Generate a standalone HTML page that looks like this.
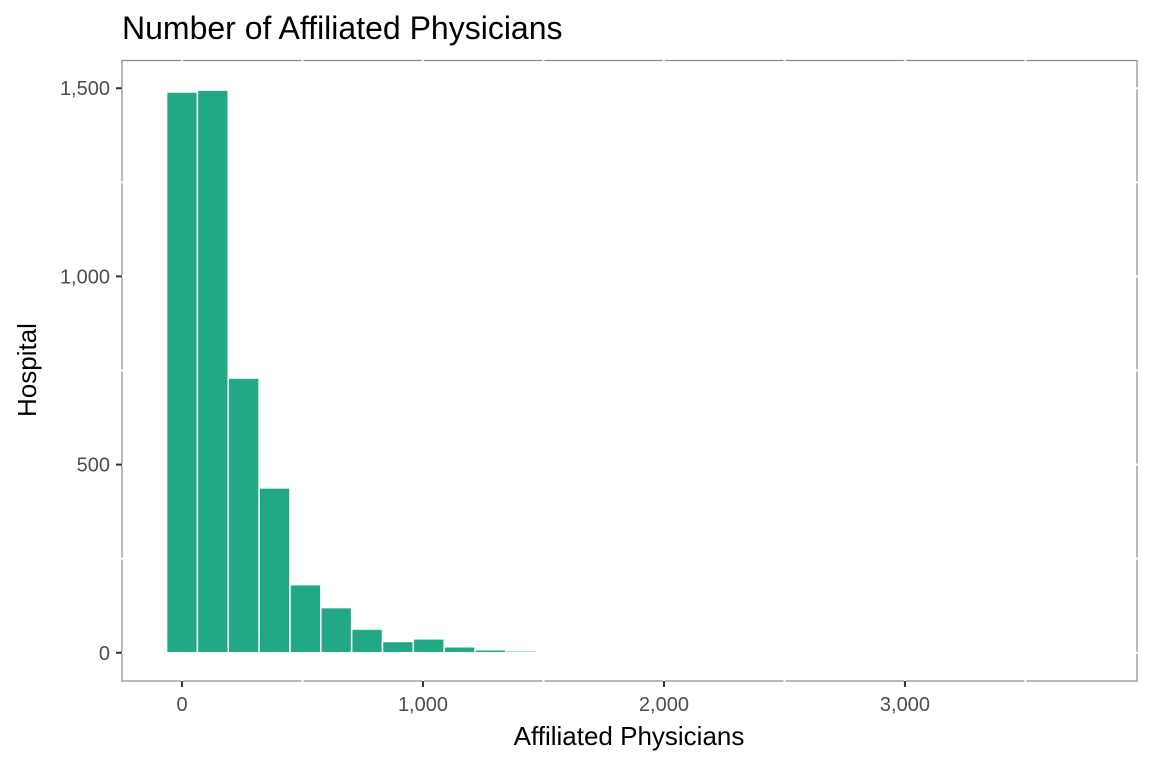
<!DOCTYPE html>
<html><head><meta charset="utf-8">
<style>
html,body{margin:0;padding:0;background:#fff;}
svg{display:block;font-family:"Liberation Sans",Arial,sans-serif;}
</style></head>
<body>
<svg id="chart" width="1152" height="768" viewBox="0 0 1152 768" xmlns="http://www.w3.org/2000/svg">
<rect width="1152" height="768" fill="#fff"/>
<text x="122" y="39" font-size="32" fill="#000">Number of Affiliated Physicians</text>
<g id="bars"></g>
<rect x="122" y="60.5" width="1015" height="620.5" fill="none" stroke="#8a8a8a" stroke-width="1.2"/>
<g id="grid"></g>
<g id="axes"></g>
<text x="629" y="745" font-size="26" text-anchor="middle" fill="#000">Affiliated Physicians</text>
<text transform="translate(36,370) rotate(-90)" font-size="26" text-anchor="middle" fill="#000">Hospital</text>
</svg>
<script>
const binCenters = [0,128,256,384,512,640,768,896,1024,1152,1280,1408,1536];
const counts = [1490,1495,730,438,181,120,63,30,37,16,8,5,1];
const binWidth = 128;
const xTicks = [0,1000,2000,3000];
const xTickLabels = ["0","1,000","2,000","3,000"];
const yTicks = [0,500,1000,1500];
const yTickLabels = ["0","500","1,000","1,500"];

const NS="http://www.w3.org/2000/svg";
const X0=122,X1=1137,Y0=681,Y1=60;
const xMin=-249,xMax=3963,yMin=-75,yMax=1575;
const xs=v=>X0+(v-xMin)/(xMax-xMin)*(X1-X0);
const ys=v=>Y0-(v-yMin)/(yMax-yMin)*(Y0-Y1);
function mk(tag,attrs,parent){const e=document.createElementNS(NS,tag);for(const k in attrs)e.setAttribute(k,attrs[k]);parent.appendChild(e);return e;}

const bars=document.getElementById('bars');
counts.forEach((c,i)=>{
  const l=xs(binCenters[i]-binWidth/2),r=xs(binCenters[i]+binWidth/2);
  const t=ys(c),b=ys(0);
  const rc=mk('rect',{x:l,y:t,width:r-l,height:Math.max(b-t,0.5),fill:'#22a884',stroke:'#ffffff','stroke-width':1.5},bars);
  
  
});

const grid=document.getElementById('grid');
const xg=[...xTicks];xTicks.forEach(v=>xg.push(v+500));xg.push(-500);
xg.forEach(v=>{const x=xs(v);if(x>X0&&x<X1){
  const g1=mk('line',{x1:x,x2:x,y1:Y1-1,y2:Y1+2,stroke:'#fff','stroke-width':2},grid);
  
  const g2=mk('line',{x1:x,x2:x,y1:Y0-2,y2:Y0+1,stroke:'#fff','stroke-width':2},grid);
  }});
const yg=[...yTicks];yTicks.forEach(v=>yg.push(v+250));
yg.forEach(v=>{const y=ys(v);if(y>Y1&&y<Y0){
  const g1=mk('line',{x1:X0-1,x2:X0+2,y1:y,y2:y,stroke:'#fff','stroke-width':2},grid);
  
  const g2=mk('line',{x1:X1-2,x2:X1+1,y1:y,y2:y,stroke:'#fff','stroke-width':2},grid);
  }});

const axes=document.getElementById('axes');
xTicks.forEach((v,i)=>{
  const x=xs(v);
  const tk=mk('line',{x1:x,x2:x,y1:Y0,y2:Y0+6,stroke:'#333','stroke-width':2},axes);
  
  const t=mk('text',{x:x,y:Y0+30,'font-size':20,'text-anchor':'middle',fill:'#4d4d4d'},axes);
  t.textContent=xTickLabels[i];
  
});
yTicks.forEach((v,i)=>{
  const y=ys(v);
  const tk=mk('line',{x1:X0-6,x2:X0,y1:y,y2:y,stroke:'#333','stroke-width':2},axes);
  
  const t=mk('text',{x:X0-12,y:y+7,'font-size':20,'text-anchor':'end',fill:'#4d4d4d'},axes);
  t.textContent=yTickLabels[i];
  
});
</script>
</body></html>
